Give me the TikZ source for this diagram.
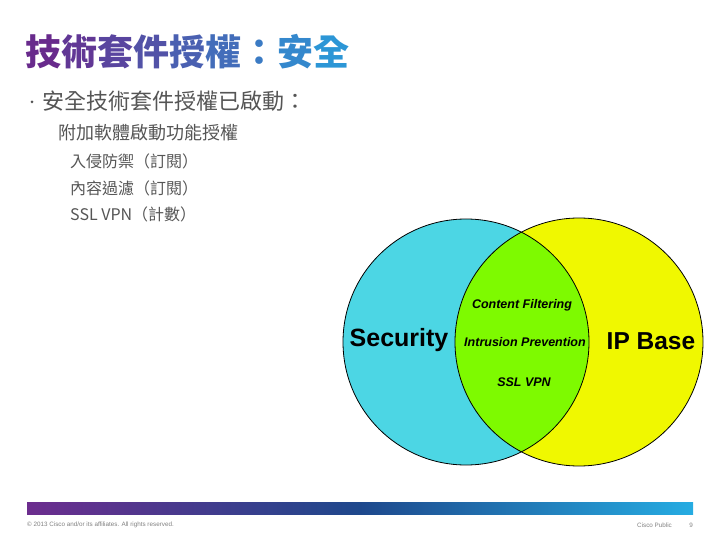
\documentclass[tikz,border=0pt]{standalone}
\usepackage{fontspec}
\setmainfont{Liberation Sans}
\newfontfamily\cjk{Noto Sans CJK TC}
\definecolor{tpurple}{RGB}{104,42,140}
\definecolor{tblue}{RGB}{44,150,214}
\definecolor{bodygray}{RGB}{85,85,85}
\definecolor{vcyan}{RGB}{76,214,228}
\definecolor{vyellow}{RGB}{240,248,0}
\definecolor{vgreen}{RGB}{126,250,0}
\definecolor{barpurple}{RGB}{108,45,142}
\definecolor{barblue}{RGB}{30,72,140}
\definecolor{barlight}{RGB}{38,172,226}
\tikzset{
  body/.style={anchor=west, inner sep=0pt, text=bodygray, font=\cjk},
  venn/.style={inner sep=0pt, font=\bfseries},
  foot/.style={inner sep=0pt, text=gray, font=\fontsize{6.3}{7}\selectfont},
}
\begin{document}
\begin{tikzpicture}[x=1pt,y=-1pt]
\useasboundingbox (0,0) rectangle (720,540);
% title
\node[anchor=west, inner sep=0pt, font=\cjk\bfseries\fontsize{36}{36}\selectfont] (title) at (25,52)
 {\color{tpurple}技\color{tpurple!88!tblue}術\color{tpurple!75!tblue}套\color{tpurple!63!tblue}件\color{tpurple!50!tblue}授\color{tpurple!38!tblue}權\color{tpurple!25!tblue}：\color{tpurple!13!tblue}安\color{tblue}全};
% bullet text
\fill[bodygray] (32,102) circle (1.5pt);
\node[body, font=\cjk\fontsize{22}{22}\selectfont] (b1) at (42,101) {安全技術套件授權已啟動：};
\node[body, font=\cjk\fontsize{18}{18}\selectfont] (b2) at (58,133) {附加軟體啟動功能授權};
\node[body, font=\cjk\fontsize{16}{16}\selectfont] (b3) at (70,161) {入侵防禦（訂閱）};
\node[body, font=\cjk\fontsize{16}{16}\selectfont] (b4) at (70,188) {內容過濾（訂閱）};
\node[body, font=\cjk\fontsize{16}{16}\selectfont] (b5) at (70,214) {SSL VPN（計數）};
% venn
\fill[vcyan] (466,342) circle (123pt);
\fill[vyellow] (579,342) circle (124pt);
\begin{scope}
  \clip (466,342) circle (123pt);
  \fill[vgreen] (579,342) circle (124pt);
\end{scope}
\draw[line width=0.8pt] (466,342) circle (123pt);
\draw[line width=0.8pt] (579,342) circle (124pt);
\node[venn, font=\bfseries\fontsize{25}{25}\selectfont] (sec) at (399,340) {Security};
\node[venn, font=\bfseries\fontsize{24.5}{25}\selectfont] (ipb) at (651,341) {IP Base};
\node[venn, font=\bfseries\itshape\fontsize{12.5}{13}\selectfont] (cf) at (522,305) {Content Filtering};
\node[venn, font=\bfseries\itshape\fontsize{12.5}{13}\selectfont] (ip) at (525,342) {Intrusion Prevention};
\node[venn, font=\bfseries\itshape\fontsize{12.5}{13}\selectfont] (ssl) at (524,382) {SSL VPN};
% footer
\shade[left color=barpurple, right color=barlight, middle color=barblue] (27,502) rectangle (693,514);
\node[foot, anchor=west] (copy) at (27,525) {© 2013 Cisco and/or its affiliates. All rights reserved.};
\node[foot, anchor=west] (pub) at (637,525) {Cisco Public};
\node[foot, anchor=east] (pg) at (693,525) {9};
\end{tikzpicture}
\end{document}
